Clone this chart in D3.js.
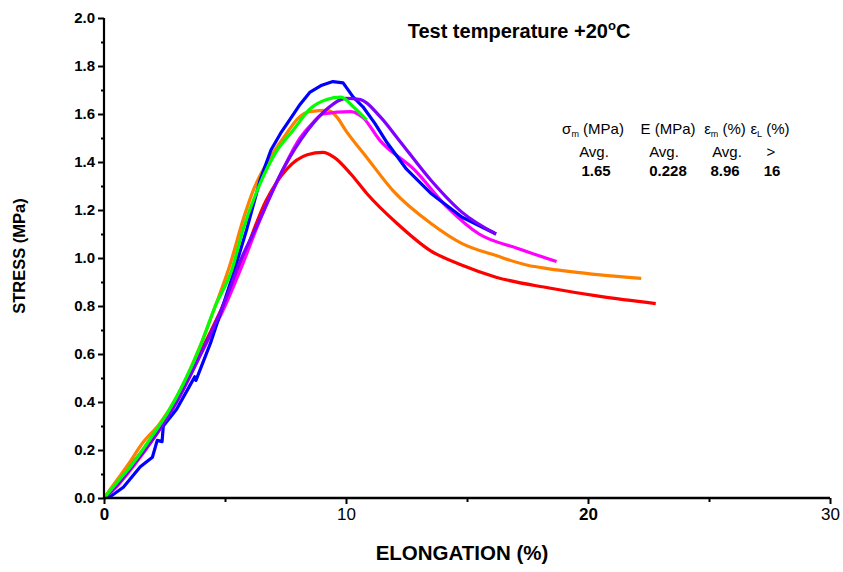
<!DOCTYPE html>
<html>
<head>
<meta charset="utf-8">
<script src="https://cdn.jsdelivr.net/npm/d3@7"></script>
<style>
  body { margin: 0; background: #fff; }
  svg { display: block; }
  text { font-family: "Liberation Sans", Arial, sans-serif; fill: #000; }
</style>
</head>
<body>
<svg id="chart" width="843" height="572"></svg>
<script>
// ---- Data (elongation %, stress MPa) ----
const blue = [[0,0],[0.25,0.005],[0.8,0.045],[1.5,0.13],[2.0,0.17],[2.2,0.24],[2.4,0.235],[2.45,0.30],[3.0,0.37],[3.5,0.46],[3.75,0.505],[3.8,0.49],[4.4,0.645],[5.3,0.92],[5.9,1.12],[6.45,1.325],[6.9,1.45],[7.3,1.52],[7.7,1.58],[8.1,1.64],[8.5,1.69],[9.0,1.72],[9.46,1.735],[9.88,1.73],[10.3,1.67],[10.7,1.63],[11.2,1.56],[11.7,1.48],[12.5,1.37],[13.5,1.27],[14.8,1.17],[16.2,1.10]];
const green = [[0,0],[0.5,0.06],[1.2,0.145],[2.0,0.26],[2.6,0.35],[3.3,0.48],[3.97,0.63],[4.6,0.80],[5.28,0.95],[5.75,1.12],[6.45,1.31],[7.1,1.44],[7.8,1.53],[8.5,1.62],[9.2,1.66],[9.8,1.67],[10.3,1.63],[10.85,1.575]];
const orange = [[0,0],[0.5,0.07],[1.0,0.14],[1.6,0.23],[2.3,0.31],[3.0,0.42],[4.0,0.64],[4.6,0.80],[5.2,0.97],[5.75,1.16],[6.2,1.29],[6.7,1.39],[7.55,1.52],[8.0,1.58],[8.5,1.61],[9.26,1.615],[9.6,1.59],[10.0,1.53],[10.85,1.42],[11.95,1.28],[13.5,1.145],[14.8,1.06],[16.2,1.01],[17.5,0.97],[18.4,0.955],[20.5,0.93],[22.2,0.915]];
const magenta = [[0,0],[0.5,0.045],[1.2,0.13],[2.2,0.27],[3.0,0.40],[4.0,0.60],[5.0,0.80],[5.75,0.98],[6.45,1.16],[7.4,1.37],[8.1,1.50],[8.6,1.56],[9.05,1.60],[10.2,1.61],[10.7,1.585],[11.4,1.49],[12.8,1.37],[14.2,1.21],[15.5,1.10],[17.1,1.04],[18.7,0.985]];
const purple = [[0,0],[0.6,0.06],[1.3,0.15],[2.2,0.27],[3.0,0.40],[4.0,0.60],[5.0,0.82],[5.6,0.98],[6.3,1.13],[7.4,1.37],[8.4,1.53],[9.2,1.62],[10.0,1.665],[10.6,1.66],[11.4,1.59],[12.2,1.49],[13.5,1.325],[14.8,1.19],[16.2,1.10]];
const red = [[0,0],[0.6,0.07],[1.3,0.16],[2.2,0.28],[3.0,0.41],[4.0,0.61],[5.0,0.82],[5.6,0.96],[6.7,1.24],[7.55,1.37],[8.4,1.43],[9.05,1.44],[9.5,1.42],[10.2,1.35],[10.85,1.27],[12.1,1.145],[13.5,1.03],[14.8,0.97],[16.2,0.92],[18.4,0.875],[20.5,0.84],[22.8,0.81]];

const seriesNames = ["red","orange","magenta","blue","purple","green"];
const seriesData = [red, orange, magenta, blue, purple, green];
const seriesColors = ["#ff0000","#ff8000","#ff00ff","#0000ff","#8000ff","#00ff00"];

const xTicks = [0,10,20,30];
const xMinor = [5,15,25];
const yTicks = [0,0.2,0.4,0.6,0.8,1.0,1.2,1.4,1.6,1.8,2.0];
const yMinor = [0.1,0.3,0.5,0.7,0.9,1.1,1.3,1.5,1.7,1.9];

const tableHeaders = ["σ|m| (MPa)","E (MPa)","ε|m| (%)","ε|L| (%)"];
const tableRow1 = ["Avg.","Avg.","Avg.",">"];
const tableRow2 = ["1.65","0.228","8.96","16"];

// ---- Drawing ----
const svg = d3.select("#chart");
const x = d3.scaleLinear().domain([0,30]).range([104,830]);
const y = d3.scaleLinear().domain([0,2]).range([498,18]);

// curves
const line = d3.line().x(d => x(d[0])).y(d => y(d[1])).curve(d3.curveMonotoneX);
const blueLine = d3.line().x(d => x(d[0])).y(d => y(d[1])).curve(d3.curveLinear);
seriesData.forEach((data, i) => {
  svg.append("path")
    .attr("d", seriesNames[i] === "blue" ? blueLine(data) : line(data))
    .attr("fill", "none")
    .attr("stroke", seriesColors[i])
    .attr("stroke-width", 3.2)
    .attr("stroke-linejoin", "round");
});

// y axis
const yAxis = svg.append("g").attr("transform", `translate(${x(0)},0)`)
  .call(d3.axisLeft(y).tickValues(yTicks).tickFormat(d3.format(".1f")).tickSize(6).tickPadding(3));
yAxis.select(".domain").attr("stroke-width", 2.2).attr("d", `M0,${y(2)}V${y(0)}`);
yAxis.selectAll(".tick line").attr("stroke-width", 2);
yAxis.selectAll(".tick text").style("font-family", '"Liberation Sans", Arial, sans-serif')
  .style("font-size", "15px").style("font-weight", "bold");
svg.append("g").attr("transform", `translate(${x(0)},0)`)
  .call(d3.axisLeft(y).tickValues(yMinor).tickFormat("").tickSize(3))
  .call(g => g.select(".domain").remove())
  .selectAll(".tick line").attr("stroke-width", 2);

// x axis
const xAxis = svg.append("g").attr("transform", `translate(0,${y(0)})`)
  .call(d3.axisBottom(x).tickValues(xTicks).tickFormat(d3.format("d")).tickSize(6).tickPadding(4));
xAxis.select(".domain").attr("stroke-width", 2.6).attr("d", `M${x(0)},0H${x(30)}`);
xAxis.selectAll(".tick line").attr("stroke-width", 2);
xAxis.selectAll(".tick text")
  .style("font-family", '"Liberation Sans", Arial, sans-serif')
  .style("font-size", "17px")
  .style("font-weight", d => (d === 0 || d === 20) ? "bold" : "normal");
svg.append("g").attr("transform", `translate(0,${y(0)})`)
  .call(d3.axisBottom(x).tickValues(xMinor).tickFormat("").tickSize(4))
  .call(g => g.select(".domain").remove())
  .selectAll(".tick line").attr("stroke-width", 2);

// axis titles
svg.append("text")
  .attr("x", 462).attr("y", 560).attr("text-anchor", "middle")
  .style("font-size", "20.5px").style("font-weight", "bold")
  .text("ELONGATION (%)");
svg.append("text")
  .attr("transform", "translate(25,256) rotate(-90)").attr("text-anchor", "middle")
  .style("font-size", "16.5px").style("font-weight", "bold")
  .text("STRESS (MPa)");

// title
const title = svg.append("text").attr("x", 519).attr("y", 38).attr("text-anchor", "middle")
  .style("font-size", "20px").style("font-weight", "bold");
title.append("tspan").text("Test temperature +20");
title.append("tspan").attr("dy", -8).style("font-size", "13px").text("o");
title.append("tspan").attr("dy", 8).text("C");

// annotation table
const colX = [593, 668, 725, 770];
tableHeaders.forEach((h, i) => {
  const parts = h.split("|");
  const t = svg.append("text").attr("x", colX[i]).attr("y", 134).attr("text-anchor", "middle")
    .style("font-size", "15px");
  t.append("tspan").text(parts[0]);
  if (parts.length > 1) {
    t.append("tspan").attr("dy", 3).style("font-size", "9px").text(parts[1]);
    t.append("tspan").attr("dy", -3).text(parts[2]);
  }
});
const row1X = [594, 664, 727, 771];
tableRow1.forEach((v, i) => {
  svg.append("text").attr("x", row1X[i]).attr("y", 157).attr("text-anchor", "middle")
    .style("font-size", "15px").text(v);
});
const row2X = [596, 668, 725, 772];
tableRow2.forEach((v, i) => {
  svg.append("text").attr("x", row2X[i]).attr("y", 176).attr("text-anchor", "middle")
    .style("font-size", "15px").style("font-weight", "bold").text(v);
});
</script>
</body>
</html>
